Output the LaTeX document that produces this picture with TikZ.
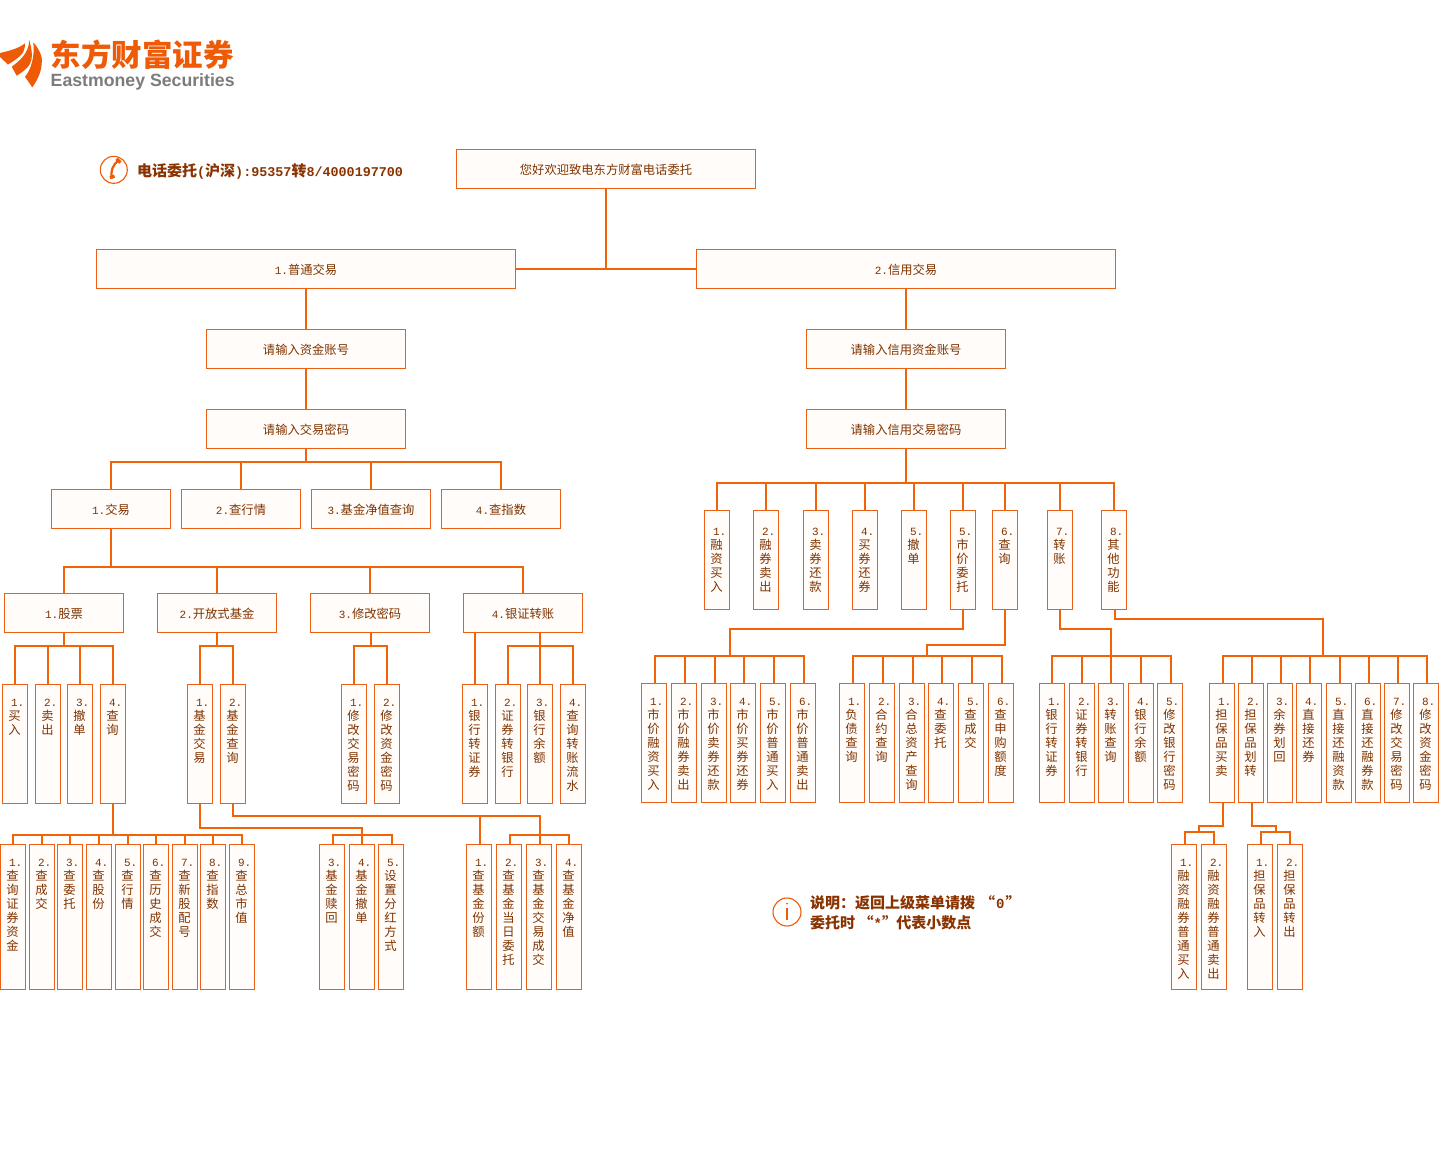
\documentclass[tikz,border=0pt]{standalone}
\usepackage{fontspec}
\setmainfont{Noto Sans CJK SC}
\newfontfamily\dg{Liberation Mono}
\newfontfamily\lat{Liberation Sans}
\definecolor{ln}{HTML}{F26207}
\definecolor{bd}{HTML}{EC5F14}
\definecolor{fl}{HTML}{FFFCF9}
\definecolor{tx}{HTML}{803300}
\definecolor{bt}{HTML}{8A3300}
\definecolor{lg}{HTML}{EE5A06}
\definecolor{gy}{HTML}{7C7C7C}
\tikzset{
  boxnode/.style={draw=bd,fill=fl,line width=1pt,inner sep=0pt,outer sep=0pt,text=tx,font=\fontsize{12.3}{14}\selectfont},
  conn/.style={draw=ln,line width=2.4pt,line cap=butt,line join=miter},
  note/.style={inner sep=0pt,text=bt,anchor=west,font=\fontsize{15}{16}\selectfont\bfseries}
}
\def\vtloop#1{\ifx#1\relax\else\\#1\expandafter\vtloop\fi}
\def\vsh{0}
\newcommand{\hb}[6]{\node[boxnode,minimum width={(#4-#2)*1pt},minimum height={(#5-#3)*1pt}] (#1) at ({(#2+#4)/2},{(#3+#5)/2}) {\raisebox{-5.6pt}[0pt][0pt]{#6}};}
\newcommand{\hn}[1]{{\dg\fontsize{11}{14}\selectfont #1.}}
% vertical box: name, x0, y0, y1, number, characters
\newcommand{\vb}[6]{\node[boxnode,minimum width=25pt,minimum height={(#4-#3)*1pt}] (#1) at ({#2+12.5},{(#3+#4)/2}) {\parbox[c][\dimexpr #4pt-#3pt\relax][t]{23.8pt}{\centering\baselineskip=14pt\lineskiplimit=-10pt\vspace*{0pt}\rule{0pt}{\dimexpr 22.3pt+\vsh pt\relax}\raisebox{.7pt}{\dg\fontsize{11}{14}\selectfont\makebox[0pt][c]{#5}\rlap{\kern3.3pt.}}\vtloop#6\relax\par}\kern1.2pt};}
\begin{document}
\begin{tikzpicture}[x=1pt,y=-1pt]
\useasboundingbox (0,0) rectangle (1441,1152);
\fill[white] (0,0) rectangle (1441,1152);
% logo
\fill[lg] (33.3,42.3) .. controls (40,50) and (43,58) .. (41.7,64) .. controls (41,74) and (36,82) .. (32.3,87.3) -- (25,76.7) .. controls (31,70) and (35,56) .. cycle;
\fill[lg] (29.3,40) .. controls (32,50) and (33,58) .. (30,64) .. controls (27,69) and (21,73) .. (16.7,75.7) -- (11.7,66.7) .. controls (18,62) and (29,54) .. cycle;
\fill[lg] (25,43.3) .. controls (25,48) and (24,52) .. (21,55) .. controls (17,59) and (12,62) .. (8,64.5) -- (0,57) -- (0,53) .. controls (8,51) and (18,49) .. cycle;
\node[inner sep=0pt,anchor=west,text=lg,font=\fontsize{30.5}{32}\selectfont\bfseries] (lgcn) at (50.5,54.5) {东方财富证券};
\node[inner sep=0pt,anchor=west,text=gy,font=\lat\fontsize{17.7}{20}\selectfont\bfseries] (lgen) at (50.5,82) {Eastmoney Securities};
% phone
\draw[lg,line width=1.1pt] (113.8,169.8) circle (13.5);
\draw[lg,line width=2.2pt,line cap=round] (118.5,160.5) .. controls (113,164) and (110,172) .. (112,178);
\draw[lg,line width=3.2pt] (116.5,158.8) -- (120.5,162.5);
\draw[lg,line width=3.2pt] (109.8,177.4) -- (114.6,176.2);
\node[note] (tel) at (137,171) {电话委托{\dg\fontsize{13.4}{14}\selectfont\bfseries (}沪深{\dg\fontsize{13.4}{14}\selectfont\bfseries ):95357}转{\dg\fontsize{13.4}{14}\selectfont\bfseries 8/4000197700}};
% info note
\draw[lg,line width=1.1pt] (787,912) circle (14);
\fill[lg] (787,903.5) circle (1);
\draw[lg,line width=1.1pt] (787,907.5) -- (787,920);
\node[note] (n1) at (810,902.5) {说明：返回上级菜单请拨\kern5pt “\kern1pt{\dg\fontsize{14}{14}\selectfont\bfseries 0}\kern1pt”};
\node[note] (n2) at (810,922.5) {委托时 “{\dg\fontsize{14}{14}\selectfont\bfseries *}”\kern-4pt\ 代表小数点};
% top
\hb{hello}{456.5}{149.5}{755.5}{188.5}{您好欢迎致电东方财富电话委托}
\hb{pt}{96.5}{249.5}{515.5}{288.5}{\hn{1}普通交易}
\hb{xy}{696.5}{249.5}{1115.5}{288.5}{\hn{2}信用交易}
\hb{pzh}{206.5}{329.5}{405.5}{368.5}{请输入资金账号}
\hb{pmm}{206.5}{409.5}{405.5}{448.5}{请输入交易密码}
\hb{xzh}{806.5}{329.5}{1005.5}{368.5}{请输入信用资金账号}
\hb{xmm}{806.5}{409.5}{1005.5}{448.5}{请输入信用交易密码}
\hb{jy}{51.5}{489.5}{170.5}{528.5}{\hn{1}交易}
\hb{hq}{181.5}{489.5}{300.5}{528.5}{\hn{2}查行情}
\hb{jz}{311.5}{489.5}{430.5}{528.5}{\hn{3}基金净值查询}
\hb{zs}{441.5}{489.5}{560.5}{528.5}{\hn{4}查指数}
\hb{gp}{4.5}{593.5}{123.5}{632.5}{\hn{1}股票}
\hb{kf}{157.5}{593.5}{276.5}{632.5}{\hn{2}开放式基金}
\hb{xg}{310.5}{593.5}{429.5}{632.5}{\hn{3}修改密码}
\hb{yz}{463.5}{593.5}{582.5}{632.5}{\hn{4}银证转账}
% stock second level
\def\ya{684.5}\def\yb{803.5}
\vb{g1}{2.5}{\ya}{\yb}{1}{买入}
\vb{g2}{35.5}{\ya}{\yb}{2}{卖出}
\vb{g3}{67.5}{\ya}{\yb}{3}{撤单}
\vb{g4}{100.5}{\ya}{\yb}{4}{查询}
\vb{k1}{187.5}{\ya}{\yb}{1}{基金交易}
\vb{k2}{220.5}{\ya}{\yb}{2}{基金查询}
\vb{m1}{341.5}{\ya}{\yb}{1}{修改交易密码}
\vb{m2}{374.5}{\ya}{\yb}{2}{修改资金密码}
\vb{z1}{462.5}{\ya}{\yb}{1}{银行转证券}
\vb{z2}{495.5}{\ya}{\yb}{2}{证券转银行}
\vb{z3}{527.5}{\ya}{\yb}{3}{银行余额}
\vb{z4}{560.5}{\ya}{\yb}{4}{查询转账流水}
% third level
\def\yc{844.5}\def\yd{989.5}
\vb{q1}{0.5}{\yc}{\yd}{1}{查询证券资金}
\vb{q2}{29.5}{\yc}{\yd}{2}{查成交}
\vb{q3}{57.5}{\yc}{\yd}{3}{查委托}
\vb{q4}{86.5}{\yc}{\yd}{4}{查股份}
\vb{q5}{115.5}{\yc}{\yd}{5}{查行情}
\vb{q6}{143.5}{\yc}{\yd}{6}{查历史成交}
\vb{q7}{172.5}{\yc}{\yd}{7}{查新股配号}
\vb{q8}{200.5}{\yc}{\yd}{8}{查指数}
\vb{q9}{229.5}{\yc}{\yd}{9}{查总市值}
\vb{j3}{319.5}{\yc}{\yd}{3}{基金赎回}
\vb{j4}{349.5}{\yc}{\yd}{4}{基金撤单}
\vb{j5}{378.5}{\yc}{\yd}{5}{设置分红方式}
\vb{c1}{466.5}{\yc}{\yd}{1}{查基金份额}
\vb{c2}{496.5}{\yc}{\yd}{2}{查基金当日委托}
\vb{c3}{526.5}{\yc}{\yd}{3}{查基金交易成交}
\vb{c4}{556.5}{\yc}{\yd}{4}{查基金净值}
% credit first level
\def\ye{510.5}\def\yf{609.5}
\def\vsh{3}
\vb{a1}{704.5}{\ye}{\yf}{1}{融资买入}
\vb{a2}{753.5}{\ye}{\yf}{2}{融券卖出}
\vb{a3}{803.5}{\ye}{\yf}{3}{卖券还款}
\vb{a4}{852.5}{\ye}{\yf}{4}{买券还券}
\vb{a5}{901.5}{\ye}{\yf}{5}{撤单}
\vb{a6}{950.5}{\ye}{\yf}{5}{市价委托}
\vb{a7}{992.5}{\ye}{\yf}{6}{查询}
\vb{a8}{1047.5}{\ye}{\yf}{7}{转账}
\vb{a9}{1101.5}{\ye}{\yf}{8}{其他功能}
\def\vsh{0}
% credit second level
\def\yg{683.5}\def\yh{802.5}
\vb{s1}{641.5}{\yg}{\yh}{1}{市价融资买入}
\vb{s2}{671.5}{\yg}{\yh}{2}{市价融券卖出}
\vb{s3}{701.5}{\yg}{\yh}{3}{市价卖券还款}
\vb{s4}{730.5}{\yg}{\yh}{4}{市价买券还券}
\vb{s5}{760.5}{\yg}{\yh}{5}{市价普通买入}
\vb{s6}{790.5}{\yg}{\yh}{6}{市价普通卖出}
\vb{r1}{839.5}{\yg}{\yh}{1}{负债查询}
\vb{r2}{869.5}{\yg}{\yh}{2}{合约查询}
\vb{r3}{899.5}{\yg}{\yh}{3}{合总资产查询}
\vb{r4}{928.5}{\yg}{\yh}{4}{查委托}
\vb{r5}{958.5}{\yg}{\yh}{5}{查成交}
\vb{r6}{988.5}{\yg}{\yh}{6}{查申购额度}
\vb{t1}{1039.5}{\yg}{\yh}{1}{银行转证券}
\vb{t2}{1069.5}{\yg}{\yh}{2}{证券转银行}
\vb{t3}{1098.5}{\yg}{\yh}{3}{转账查询}
\vb{t4}{1128.5}{\yg}{\yh}{4}{银行余额}
\vb{t5}{1157.5}{\yg}{\yh}{5}{修改银行密码}
\vb{o1}{1209.5}{\yg}{\yh}{1}{担保品买卖}
\vb{o2}{1238.5}{\yg}{\yh}{2}{担保品划转}
\vb{o3}{1267.5}{\yg}{\yh}{3}{余券划回}
\vb{o4}{1296.5}{\yg}{\yh}{4}{直接还券}
\vb{o5}{1326.5}{\yg}{\yh}{5}{直接还融资款}
\vb{o6}{1355.5}{\yg}{\yh}{6}{直接还融券款}
\vb{o7}{1384.5}{\yg}{\yh}{7}{修改交易密码}
\vb{o8}{1413.5}{\yg}{\yh}{8}{修改资金密码}
\vb{u1}{1171.5}{\yc}{\yd}{1}{融资融券普通买入}
\vb{u2}{1201.5}{\yc}{\yd}{2}{融资融券普通卖出}
\vb{v1}{1247.5}{\yc}{\yd}{1}{担保品转入}
\vb{v2}{1277.5}{\yc}{\yd}{2}{担保品转出}
% junctions and buses
\coordinate (b0) at (hello.south |- pt.east);
\coordinate (bL) at (pmm.south |- 0,462);
\coordinate (bT) at (jy.south |- 0,567);
\coordinate (bG) at (gp.south |- 0,646);
\coordinate (bK) at (kf.south |- 0,646);
\coordinate (bM) at (371,646);
\coordinate (bZ) at (540,646);
\coordinate (bQ) at (g4.south |- 0,835);
\coordinate (bJm) at (k1.south |- 0,828);
\coordinate (bJj) at (362,828);
\coordinate (bJ) at (362,835);
\coordinate (bCm) at (k2.south |- 0,816);
\coordinate (bCj) at (540,816);
\coordinate (bC) at (540,835);
\coordinate (bR) at (xmm.south |- 0,483);
\coordinate (bSm) at (730,629);
\coordinate (bS) at (730,656);
\coordinate (bPm) at (927,645);
\coordinate (bP) at (927,656);
\coordinate (bTm) at (1111,629);
\coordinate (bTb) at (1111,656);
\coordinate (bOm) at (1323,619);
\coordinate (bO) at (1323,656);
\coordinate (bUm) at (1199,826);
\coordinate (bU) at (1199,832);
\coordinate (bVm) at (1276,826);
\coordinate (bV) at (1276,832);
% connectors
\draw[conn] (hello.south) -- (b0);
\draw[conn] (pt.east) -- (xy.west);
\draw[conn] (pt.south) -- (pzh.north);
\draw[conn] (pzh.south) -- (pmm.north);
\draw[conn] (xy.south) -- (xzh.north);
\draw[conn] (xzh.south) -- (xmm.north);
\draw[conn] (pmm.south) -- (bL);
\foreach \c in {jy,hq,jz,zs} \draw[conn] (\c.north) |- (bL);
\draw[conn] (jy.south) -- (bT);
\foreach \c in {gp,kf,xg,yz} \draw[conn] (\c.north) |- (bT);
\draw[conn] (gp.south) -- (bG);
\foreach \c in {g1,g2,g3,g4} \draw[conn] (\c.north) |- (bG);
\draw[conn] (kf.south) -- (bK);
\foreach \c in {k1,k2} \draw[conn] (\c.north) |- (bK);
\draw[conn] (bM |- xg.south) -- (bM);
\foreach \c in {m1,m2} \draw[conn] (\c.north) |- (bM);
\draw[conn] (z1.north) -- (z1.north |- yz.south);
\draw[conn] (bZ |- yz.south) -- (bZ);
\foreach \c in {z2,z3,z4} \draw[conn] (\c.north) |- (bZ);
\draw[conn] (g4.south) -- (bQ);
\foreach \c in {q1,q2,q3,q4,q5,q6,q7,q8,q9} \draw[conn] (\c.north) |- (bQ);
\draw[conn] (k1.south) -- (bJm) -- (bJj) -- (bJ);
\foreach \c in {j3,j5} \draw[conn] ([xshift=1pt]\c.north) |- (bJ);
\draw[conn] (j4.north) |- (bJ);
\draw[conn] (k2.south) -- (bCm) -- (bCj) -- (bC);
\draw[conn] ([xshift=1pt]c1.north) |- (bCj);
\foreach \c in {c2,c3} \draw[conn] ([xshift=1pt]\c.north) |- (bC);
\draw[conn] (c4.north) |- (bC);
\draw[conn] (xmm.south) -- (bR);
\foreach \c in {a1,a2,a3,a4,a5,a6,a7,a8,a9} \draw[conn] (\c.north) |- (bR);
\draw[conn] (a6.south) |- (bSm) -- (bS);
\foreach \c in {s1,s2,s3,s4,s5,s6} \draw[conn] ([xshift=1pt]\c.north) |- (bS);
\draw[conn] (a7.south) |- (bPm) -- (bP);
\foreach \c in {r1,r2,r3,r4,r5,r6} \draw[conn] ([xshift=1pt]\c.north) |- (bP);
\draw[conn] (a8.south) |- (bTm) -- (bTb);
\foreach \c in {t1,t2,t3,t4} \draw[conn] (\c.north) |- (bTb);
\draw[conn] ([xshift=1pt]t5.north) |- (bTb);
\draw[conn] ([xshift=1pt]a9.south) |- (bOm) -- (bO);
\foreach \c in {o1,o2,o3,o4,o5,o6,o7,o8} \draw[conn] ([xshift=1pt]\c.north) |- (bO);
\draw[conn] ([xshift=1pt]o1.south) |- (bUm) -- (bU);
\draw[conn] ([xshift=1pt]u1.north) |- (bU);
\draw[conn] (u2.north) |- (bU);
\draw[conn] ([xshift=1pt]o2.south) |- (bVm) -- (bV);
\draw[conn] ([xshift=1pt]v1.north) |- (bV);
\draw[conn] (v2.north) |- (bV);
\end{tikzpicture}
\end{document}
